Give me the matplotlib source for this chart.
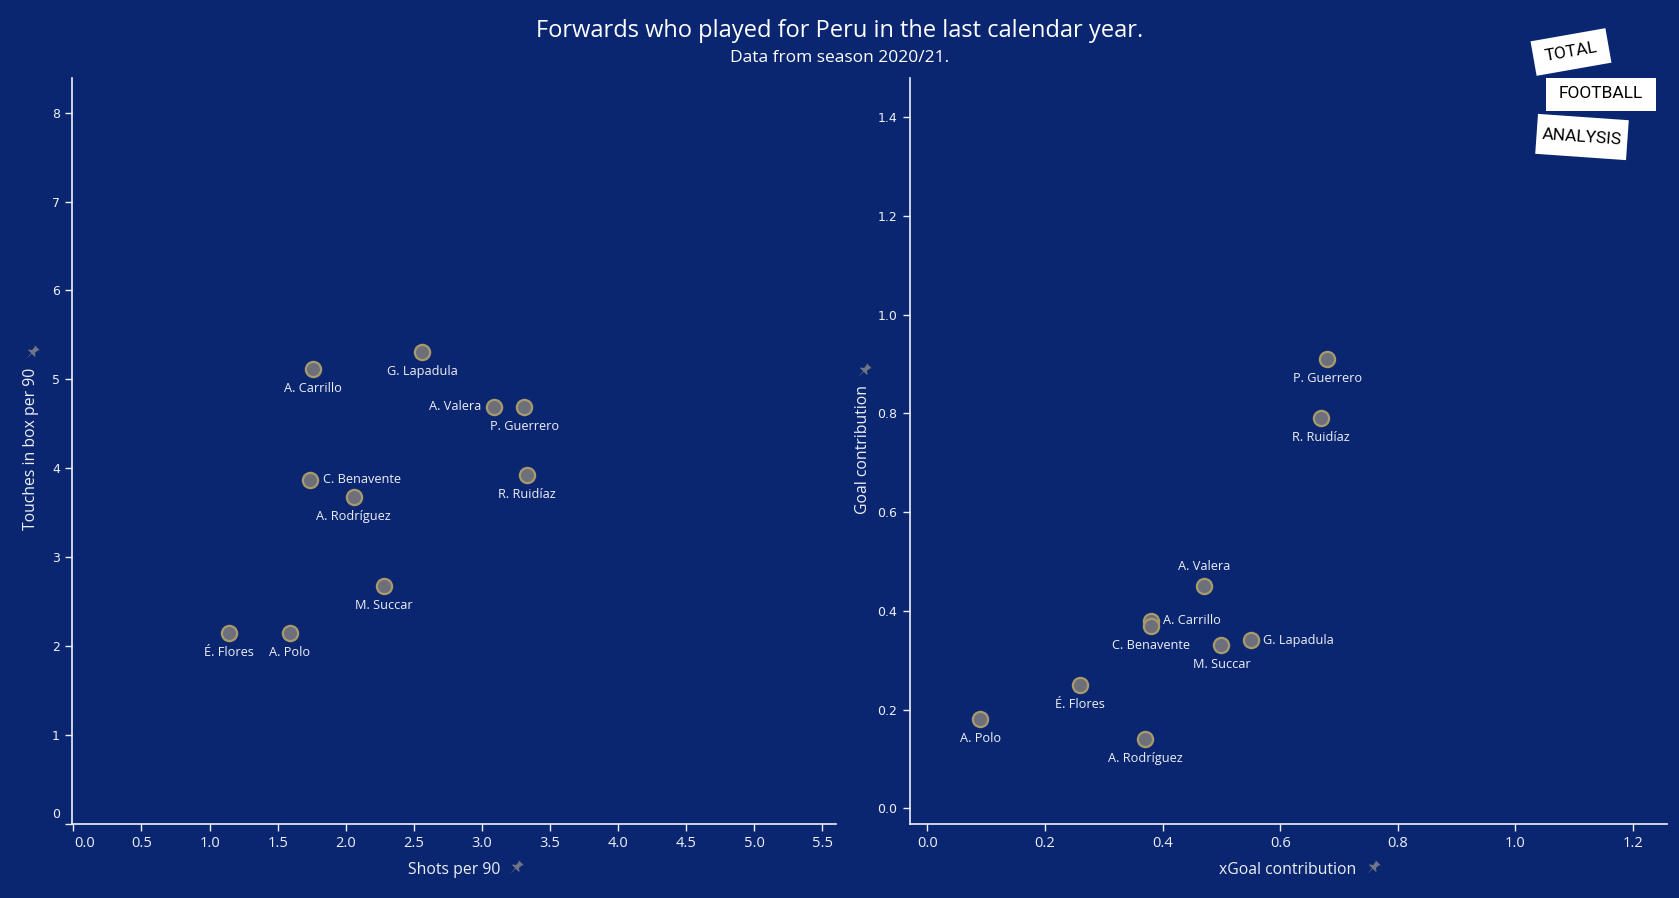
import matplotlib
matplotlib.use("Agg")
import matplotlib.pyplot as plt
import numpy as np
from matplotlib.path import Path
from matplotlib.patches import Rectangle
import matplotlib.transforms as mtrans

# data
players = ["A. Carrillo", "G. Lapadula", "A. Valera", "P. Guerrero", "R. Ruidíaz",
           "C. Benavente", "A. Rodríguez", "M. Succar", "É. Flores", "A. Polo"]
shots90 = [1.76, 2.56, 3.09, 3.31, 3.33, 1.74, 2.06, 2.28, 1.14, 1.59]
touches90 = [5.11, 5.31, 4.69, 4.69, 3.92, 3.87, 3.67, 2.67, 2.14, 2.14]
xgoal = [0.38, 0.55, 0.47, 0.68, 0.67, 0.38, 0.37, 0.50, 0.26, 0.09]
goalc = [0.38, 0.34, 0.45, 0.91, 0.79, 0.37, 0.14, 0.33, 0.25, 0.18]

left_ticks_x = [0.0, 0.5, 1.0, 1.5, 2.0, 2.5, 3.0, 3.5, 4.0, 4.5, 5.0, 5.5]
left_ticks_y = [0, 1, 2, 3, 4, 5, 6, 7, 8]
right_ticks_x = [0.0, 0.2, 0.4, 0.6, 0.8, 1.0, 1.2]
right_ticks_y = [0.0, 0.2, 0.4, 0.6, 0.8, 1.0, 1.2, 1.4]

# where each name sits around its dot
left_pos = {"A. Valera": "left", "C. Benavente": "right"}
right_pos = {"A. Valera": "above", "A. Carrillo": "right", "G. Lapadula": "right"}

BG = "#0b2670"
FG = "#eef0f6"
PIN = "#6f7585"
W, H = 1679, 898

fig = plt.figure(figsize=(W / 100, H / 100), dpi=100, facecolor=BG)


def px(x, y):
    return x / W, 1 - y / H


def pin_marker():
    # small pushpin, tilted
    v = np.array([[-0.45, 1.0], [0.45, 1.0], [0.3, 0.85], [0.25, 0.35], [0.6, 0.1],
                  [0.6, 0.0], [0.05, 0.0], [0.0, -1.0], [-0.05, 0.0], [-0.6, 0.0],
                  [-0.6, 0.1], [-0.25, 0.35], [-0.3, 0.85], [-0.45, 1.0]])
    a = np.deg2rad(-45)
    r = np.array([[np.cos(a), -np.sin(a)], [np.sin(a), np.cos(a)]])
    return Path(v @ r.T)


def draw_pin(x, y):
    fig.lines.append(plt.Line2D([x / W], [1 - y / H], transform=fig.transFigure,
                                marker=pin_marker(), markersize=12, color=PIN,
                                markeredgewidth=0, linestyle="none"))


def style_axes(ax, xlim, ylim, xt, yt, xfmt, yfmt):
    ax.set_facecolor(BG)
    for s in ["top", "right"]:
        ax.spines[s].set_visible(False)
    for s in ["left", "bottom"]:
        ax.spines[s].set_color(FG)
        ax.spines[s].set_linewidth(1.2)
    ax.set_xlim(*xlim)
    ax.set_ylim(*ylim)
    ax.set_xticks(xt)
    ax.set_yticks(yt)
    ax.set_xticklabels([xfmt % v for v in xt], fontfamily="Open Sans", fontsize=10.5, color=FG)
    ax.set_yticklabels([yfmt % v for v in yt], fontfamily="DejaVu Sans", fontsize=9, color=FG)
    ax.tick_params(colors=FG, length=5, width=1, pad=4)


def scatter_names(ax, xs, ys, pos):
    ax.scatter(xs, ys, s=120, facecolor="#6d707a", edgecolor="#a99a6b",
               linewidth=1.6, zorder=3)
    for name, x, y in zip(players, xs, ys):
        p = pos.get(name, "below")
        if p == "below":
            off, ha, va = (0, -14), "center", "center"
        elif p == "above":
            off, ha, va = (0, 14), "center", "center"
        elif p == "left":
            off, ha, va = (-9, 0), "right", "center"
        else:
            off, ha, va = (9, 0), "left", "center"
        ax.annotate(name, (x, y), xytext=off, textcoords="offset points",
                    ha=ha, va=va, fontsize=9.2, fontfamily="Open Sans", color=FG)


# left panel
ax1 = fig.add_axes([72.3 / W, 1 - 823.5 / H, (835.6 - 72.3) / W, (823.5 - 78) / H])
style_axes(ax1, (-0.008, 5.598), (0, 8.39), left_ticks_x, left_ticks_y, "%.1f", "%d")
scatter_names(ax1, shots90, touches90, left_pos)
# first labels nudged off the corner, as in the original
ax1.get_xticklabels()[0].set_transform(ax1.get_xticklabels()[0].get_transform() +
                                       mtrans.ScaledTranslation(11 / 100, 0, fig.dpi_scale_trans))
ax1.get_yticklabels()[0].set_transform(ax1.get_yticklabels()[0].get_transform() +
                                       mtrans.ScaledTranslation(0, 10 / 100, fig.dpi_scale_trans))

# right panel
ax2 = fig.add_axes([909.6 / W, 1 - 823.5 / H, (1667.2 - 909.6) / W, (823.5 - 78) / H])
style_axes(ax2, (-0.030, 1.258), (-0.031, 1.48), right_ticks_x, right_ticks_y, "%.1f", "%.1f")
scatter_names(ax2, xgoal, goalc, right_pos)

# axis titles with pin icons
lab = dict(ha="center", va="center", fontsize=11.3, fontfamily="Open Sans", color=FG)
fig.text(*px(454, 870), "Shots per 90", **lab)
draw_pin(515, 868)
fig.text(*px(1288, 870), "xGoal contribution", **lab)
draw_pin(1372, 868)
fig.text(*px(31, 449), "Touches in box per 90", rotation=90, **lab)
draw_pin(31, 353)
fig.text(*px(863, 449), "Goal contribution", rotation=90, **lab)
draw_pin(863, 371)

# titles
fig.text(*px(839.5, 31), "Forwards who played for Peru in the last calendar year.",
         ha="center", va="center", fontsize=17, fontfamily="Open Sans", color="white")
fig.text(*px(839.5, 58), "Data from season 2020/21.", ha="center", va="center",
         fontsize=12.5, fontfamily="Open Sans", color="white")

# logo
logo = [("TOTAL", 1571, 52, 76, 35, 10), ("FOOTBALL", 1601, 94, 110, 33, 0),
        ("ANALYSIS", 1582, 137, 91, 40, -4)]
for word, cx, cy, bw, bh, ang in logo:
    x0, y0 = px(cx, cy)
    tr = mtrans.Affine2D().rotate_deg_around(cx, H - cy, ang)
    rect = Rectangle((cx - bw / 2, H - cy - bh / 2), bw, bh, facecolor="white",
                     edgecolor="none", transform=tr)
    fig.patches.append(rect)
    fig.text(x0, y0, word, ha="center", va="center", fontsize=12.5, rotation=ang,
             fontfamily="Roboto", color="black")

fig.savefig("out.png", dpi=100, facecolor=BG)
